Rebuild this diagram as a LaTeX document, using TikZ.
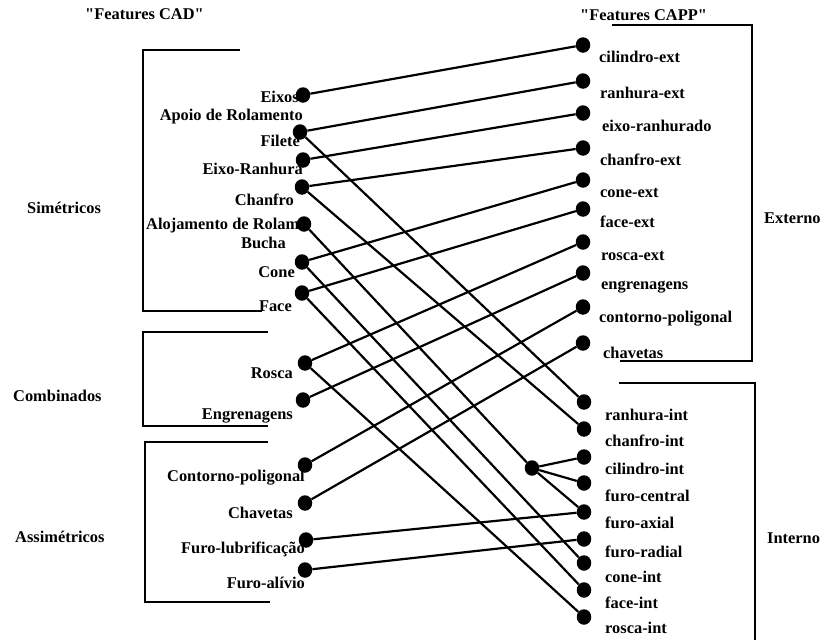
\documentclass[tikz,border=0pt]{standalone}
\usepackage{fontspec}
\usetikzlibrary{shapes.geometric}
\newfontfamily\scanserif{Liberation Serif Bold}
\begin{document}
\begin{tikzpicture}[x=1pt,y=-1pt,
  featdot/.style={ellipse,fill=black,inner sep=0pt,minimum width=14.5pt,minimum height=15.5pt},
  link/.style={line width=2.2pt},
  bracket/.style={line width=2pt},
  lbl/.style={inner sep=0pt,font=\scanserif\fontsize{16.4}{20}\selectfont},
  lft/.style={lbl,anchor=base east},
  rgt/.style={lbl,anchor=base west}]
\useasboundingbox (0,0) rectangle (825,640);

% headers and group names
\node[rgt] (hcad)  at (85,19)  {"Features CAD"};
\node[rgt] (hcapp) at (580,20) {"Features CAPP"};
\node[rgt] (gsim)  at (27,213) {Simétricos};
\node[rgt] (gcomb) at (13,401) {Combinados};
\node[rgt] (gassim) at (15,542) {Assimétricos};
\node[rgt] (gext)  at (764,223) {Externo};
\node[rgt] (gint)  at (767,543) {Interno};

% group brackets
\draw[bracket] (240,50) -| (143,311) -- (262,311);
\draw[bracket] (268,332) -| (143,426) -- (268,426);
\draw[bracket] (268,442) -| (145,602) -- (270,602);
\draw[bracket] (612,25) -| (752,361) -- (620,361);
\draw[bracket] (619,383) -| (755,640);

% CAD feature labels
\node[lft] (teixos) at (299,102) {Eixos};
\node[lft] (tapoio) at (303,120) {Apoio de Rolamento};
\node[lft] (tfilete) at (300,146) {Filete};
\node[lft] (teixor) at (303,174) {Eixo-Ranhura};
\node[lft] (tchanfro) at (294,205) {Chanfro};
\node[rgt] (taloj) at (146,229) {Alojamento de Rolam};
\node[lft] (tbucha) at (286,248) {Bucha};
\node[lft] (tcone) at (295,277) {Cone};
\node[lft] (tface) at (292,311) {Face};
\node[lft] (trosca) at (293,378) {Rosca};
\node[lft] (tengr) at (293,419) {Engrenagens};
\node[lft] (tcont) at (305,481) {Contorno-poligonal};
\node[lft] (tchav) at (293,518) {Chavetas};
\node[lft] (tflub) at (305,553) {Furo-lubrificação};
\node[lft] (tfalv) at (305,588) {Furo-alívio};

% CAPP feature labels
\node[rgt] (rcilext) at (599,62) {cilindro-ext};
\node[rgt] (rranext) at (600,98) {ranhura-ext};
\node[rgt] (reixor) at (602,131) {eixo-ranhurado};
\node[rgt] (rchext) at (600,165) {chanfro-ext};
\node[rgt] (rconext) at (600,197) {cone-ext};
\node[rgt] (rfacext) at (600,227) {face-ext};
\node[rgt] (rrosext) at (601,260) {rosca-ext};
\node[rgt] (rengr) at (601,289) {engrenagens};
\node[rgt] (rcont) at (599,322) {contorno-poligonal};
\node[rgt] (rchav) at (603,358) {chavetas};
\node[rgt] (rranint) at (605,420) {ranhura-int};
\node[rgt] (rchint) at (605,446) {chanfro-int};
\node[rgt] (rcilint) at (605,474) {cilindro-int};
\node[rgt] (rfcen) at (605,501) {furo-central};
\node[rgt] (rfax) at (605,528) {furo-axial};
\node[rgt] (rfrad) at (605,557) {furo-radial};
\node[rgt] (rconint) at (605,582) {cone-int};
\node[rgt] (rfacint) at (605,608) {face-int};
\node[rgt] (rrosint) at (605,633) {rosca-int};

% CAD feature dots
\node[featdot] (eixos) at (303,95) {};
\node[featdot] (filete) at (300,132) {};
\node[featdot] (eixor) at (303,160) {};
\node[featdot] (chanfro) at (302,187) {};
\node[featdot] (aloj) at (304,224) {};
\node[featdot] (cone) at (302,262) {};
\node[featdot] (face) at (302,293) {};
\node[featdot] (rosca) at (305,363) {};
\node[featdot] (engr) at (303,400) {};
\node[featdot] (cont) at (305,465) {};
\node[featdot] (chav) at (305,503) {};
\node[featdot] (flub) at (306,540) {};
\node[featdot] (falv) at (305,570) {};

% CAPP feature dots
\node[featdot] (cilext) at (583,45) {};
\node[featdot] (ranext) at (583,81) {};
\node[featdot] (eixorr) at (583,113) {};
\node[featdot] (chext) at (583,148) {};
\node[featdot] (conext) at (583,180) {};
\node[featdot] (facext) at (583,209) {};
\node[featdot] (rosext) at (583,242) {};
\node[featdot] (engrr) at (583,273) {};
\node[featdot] (contr) at (583,307) {};
\node[featdot] (chavr) at (583,343) {};
\node[featdot] (ranint) at (584,402) {};
\node[featdot] (chint) at (584,429) {};
\node[featdot] (cilint) at (584,457) {};
\node[featdot] (fcen) at (584,483) {};
\node[featdot] (fax) at (584,512) {};
\node[featdot] (frad) at (584,539) {};
\node[featdot] (conint) at (584,563) {};
\node[featdot] (facint) at (584,590) {};
\node[featdot] (rosint) at (584,617) {};
\node[featdot] (junc) at (532,468) {};

% mappings CAD -> CAPP
\draw[link] (eixos) -- (cilext);
\draw[link] (filete) -- (ranext);
\draw[link] (filete) -- (ranint);
\draw[link] (eixor) -- (eixorr);
\draw[link] (chanfro) -- (chext);
\draw[link] (chanfro) -- (chint);
\draw[link] (aloj) -- (junc);
\draw[link] (junc) -- (cilint);
\draw[link] (junc) -- (fcen);
\draw[link] (junc) -- (fax);
\draw[link] (cone) -- (conext);
\draw[link] (cone) -- (conint);
\draw[link] (face) -- (facext);
\draw[link] (face) -- (facint);
\draw[link] (rosca) -- (rosext);
\draw[link] (rosca) -- (rosint);
\draw[link] (engr) -- (engrr);
\draw[link] (cont) -- (contr);
\draw[link] (chav) -- (chavr);
\draw[link] (flub) -- (fax);
\draw[link] (falv) -- (frad);
\end{tikzpicture}
\end{document}
